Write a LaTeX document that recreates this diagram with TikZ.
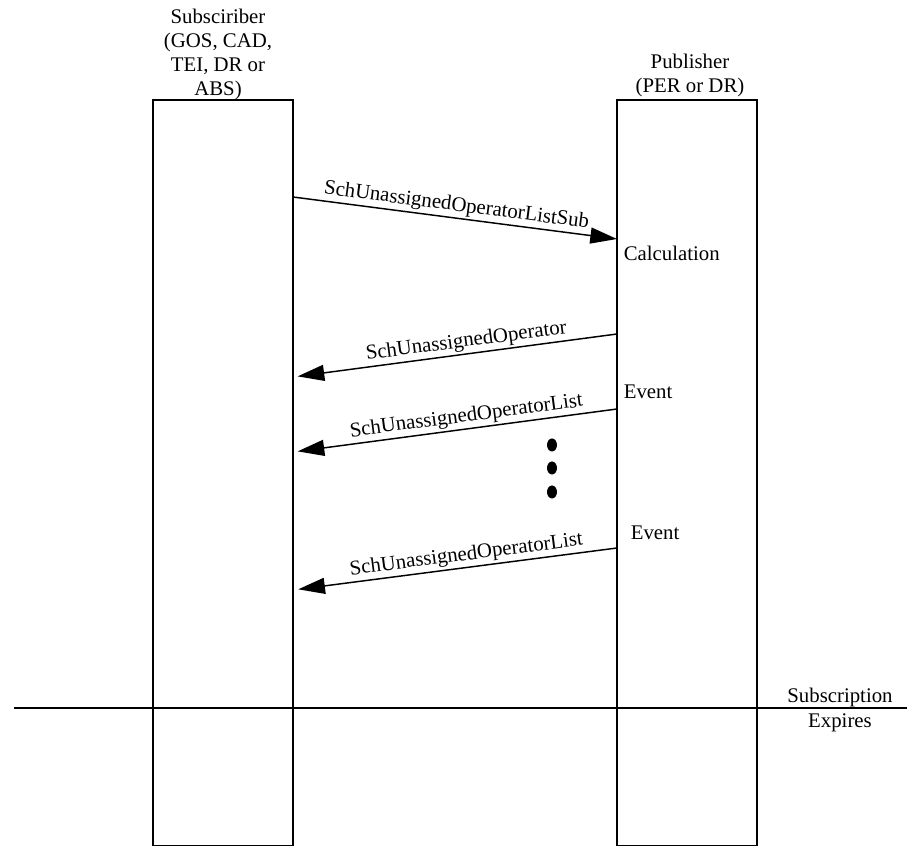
\documentclass[tikz,border=0pt]{standalone}
\usepackage{fontspec}
\setmainfont{Liberation Serif}
\usetikzlibrary{arrows.meta}
\begin{document}
\begin{tikzpicture}[x=0.75pt, y=-0.75pt, line width=1.2pt,
  font=\fontsize{15.6}{18}\selectfont,
  life/.style={draw, anchor=north west, minimum width=105pt, minimum height=559pt,
    inner sep=0pt, outer sep=0pt},
  msg/.style={-{Triangle[length=20pt,width=12pt]}, line width=1.1pt},
  lbl/.style={above, sloped, inner sep=1.5pt}]
  \useasboundingbox (0,0) rectangle (915,848);
  % lifelines
  \node[life] (sub) at (153,100) {};
  \node[life] (pub) at (617,100) {};
  \node[align=center] (subname) at (218,55) {Subsciriber\\(GOS, CAD,\\TEI, DR or\\ABS)};
  \node[align=center] (pubname) at (690,76) {Publisher\\(PER or DR)};
  % messages
  \draw[msg] (sub.east |- 0,197) -- node[lbl] {SchUnassignedOperatorListSub} (pub.west |- 0,239);
  \draw[msg, shorten >=3.5pt] (pub.west |- 0,334) -- node[lbl, pos=0.46] {SchUnassignedOperator} (sub.east |- 0,377);
  \draw[msg, shorten >=3.5pt] (pub.west |- 0,409) -- node[lbl, pos=0.46] {SchUnassignedOperatorList} (sub.east |- 0,452);
  \draw[msg, shorten >=4pt] (pub.west |- 0,548) -- node[lbl, pos=0.46] {SchUnassignedOperatorList} (sub.east |- 0,590);
  \node[anchor=west, inner sep=0pt] (calc) at (623,253) {Calculation};
  \node[anchor=west, inner sep=0pt] (ev1) at (623,392) {Event};
  \node[anchor=west, inner sep=0pt] (ev2) at (630,533) {Event};
  \foreach \y in {445,468,492}
    {\fill (552,\y) ellipse [x radius=5, y radius=6.5];}
  % expiry
  \coordinate (t0) at (14,708);
  \coordinate (t1) at (907,708);
  \draw (t0) -- (t1);
  \node[align=center, inner sep=0pt] (expire) at (840,710) {Subscription\\[1pt]Expires};
\end{tikzpicture}
\end{document}
